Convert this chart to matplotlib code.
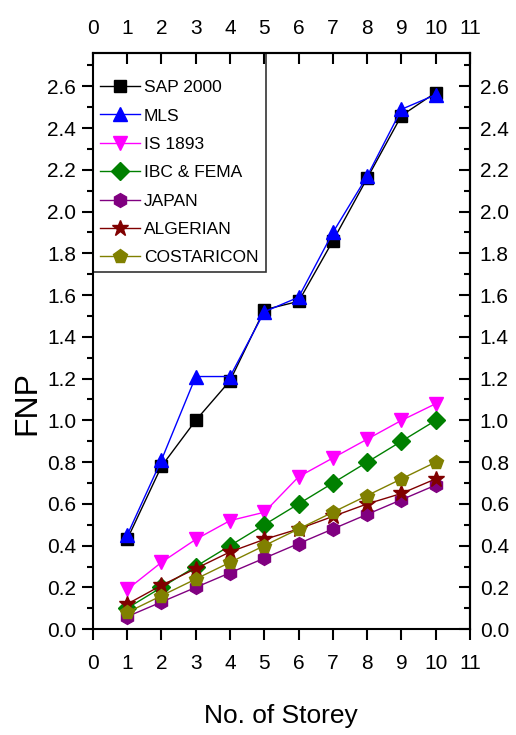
import matplotlib
matplotlib.use("Agg")
import matplotlib.pyplot as plt
from matplotlib.ticker import MultipleLocator, FormatStrFormatter

plt.rcParams['font.family'] = ['Liberation Sans', 'DejaVu Sans']

storey = [1, 2, 3, 4, 5, 6, 7, 8, 9, 10]
sap2000 = [0.43, 0.78, 1.00, 1.19, 1.53, 1.57, 1.86, 2.16, 2.46, 2.57]
mls = [0.45, 0.81, 1.21, 1.21, 1.52, 1.59, 1.90, 2.17, 2.49, 2.56]
is1893 = [0.19, 0.32, 0.43, 0.52, 0.56, 0.73, 0.82, 0.91, 1.00, 1.08]
ibc_fema = [0.10, 0.20, 0.30, 0.40, 0.50, 0.60, 0.70, 0.80, 0.90, 1.00]
japan = [0.06, 0.13, 0.20, 0.27, 0.34, 0.41, 0.48, 0.55, 0.62, 0.69]
algerian = [0.12, 0.21, 0.29, 0.37, 0.43, 0.48, 0.54, 0.60, 0.65, 0.72]
costaricon = [0.08, 0.16, 0.24, 0.32, 0.40, 0.48, 0.56, 0.64, 0.72, 0.80]

series = [
    ("SAP 2000", sap2000, "black", "s"),
    ("MLS", mls, "blue", "^"),
    ("IS 1893", is1893, "magenta", "v"),
    ("IBC & FEMA", ibc_fema, "green", "D"),
    ("JAPAN", japan, "purple", "h"),
    ("ALGERIAN", algerian, "#800000", "*"),
    ("COSTARICON", costaricon, "olive", "p"),
]
ms = {"s": 8, "^": 10, "v": 10, "D": 9, "h": 10, "*": 12, "p": 10}

fig = plt.figure(figsize=(5.16, 7.35), dpi=100)
ax = fig.add_axes([0.180, 0.144, 0.731, 0.784])

for label, vals, color, marker in series:
    ax.plot(storey, vals, color=color, marker=marker, markersize=ms[marker],
            linewidth=1, label=label)

ax.set_xlim(0, 11)
ax.set_ylim(0, 2.76)
ax.xaxis.set_major_locator(MultipleLocator(1))
ax.yaxis.set_major_locator(MultipleLocator(0.2))
ax.yaxis.set_minor_locator(MultipleLocator(0.1))
ax.yaxis.set_major_formatter(FormatStrFormatter('%.1f'))

for s in ax.spines.values():
    s.set_linewidth(1.5)

LS = 15
ax.tick_params(axis='x', which='major', direction='out', top=False, bottom=True,
               length=8, width=1.5, labelsize=LS, pad=10)
ax.tick_params(axis='y', which='major', direction='out', left=True, right=False,
               length=8, width=1.5, labelsize=LS, pad=4)
ax.tick_params(axis='y', which='minor', direction='out', left=True, right=False,
               length=4, width=1.5)

# top axis (inward ticks)
axt = ax.secondary_xaxis('top')
axt.xaxis.set_major_locator(MultipleLocator(1))
axt.tick_params(axis='x', which='major', direction='in', length=8, width=1.5,
                labelsize=LS, pad=11)
axt.spines['top'].set_linewidth(1.5)

# right axis (inward ticks)
axr = ax.secondary_yaxis('right')
axr.yaxis.set_major_locator(MultipleLocator(0.2))
axr.yaxis.set_minor_locator(MultipleLocator(0.1))
axr.yaxis.set_major_formatter(FormatStrFormatter('%.1f'))
axr.tick_params(axis='y', which='major', direction='in', length=8, width=1.5,
                labelsize=LS, pad=7)
axr.tick_params(axis='y', which='minor', direction='in', length=4, width=1.5)
axr.spines['right'].set_linewidth(1.5)

ax.set_xlabel("No. of Storey", fontsize=19)
ax.xaxis.set_label_coords(0.499, -0.130)
ax.set_ylabel("FNP", fontsize=23)
ax.yaxis.set_label_coords(-0.135, 0.392)

leg = ax.legend(loc='upper left', frameon=True, fancybox=False, edgecolor='black',
                facecolor='none', fontsize=12.5, borderaxespad=0, handlelength=2.3,
                handletextpad=0.25, labelspacing=0.76, borderpad=0.4,
                title=' ', title_fontsize=6)
leg.get_frame().set_linewidth(1.2)

fig.savefig("out.png", dpi=100)
